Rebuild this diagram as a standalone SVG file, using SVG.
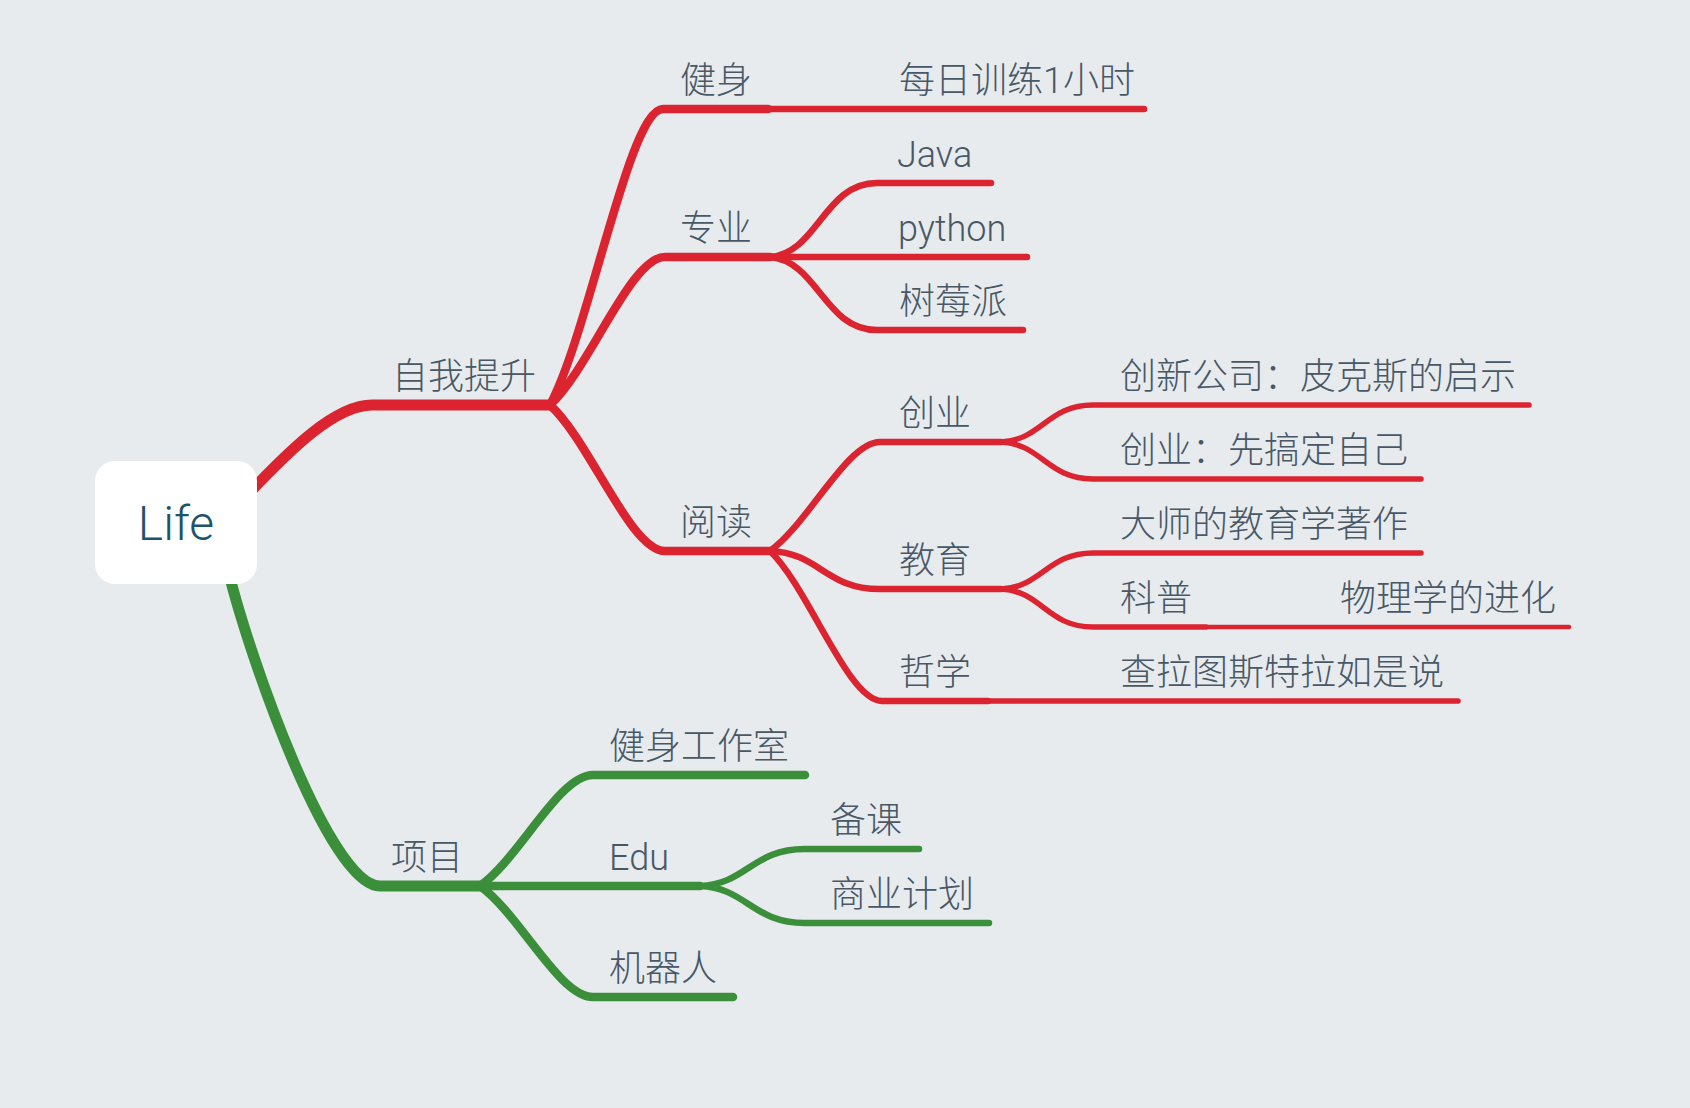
<svg xmlns="http://www.w3.org/2000/svg" width="1690" height="1108" viewBox="0 0 1690 1108">
<style>
.c{fill:none;stroke-linecap:round;stroke-linejoin:round}
.r{stroke:#dc2430}
.g{stroke:#3b8f3b}
.l1{stroke-width:11}
.l2{stroke-width:8.5}
.l3{stroke-width:6.5}
.l4{stroke-width:5.5}
.l5{stroke-width:4.5}
.t{font-family:Roboto,"Noto Sans CJK SC",sans-serif;font-weight:300;font-size:36px;fill:#485866}
.root{font-family:Roboto,"Noto Sans CJK SC",sans-serif;font-weight:300;font-size:48px;fill:#1e5468}
</style>
<rect x="0" y="0" width="1690" height="1108" fill="#e7ebee"/>
<g id="connectors">
<path class="c r l1" d="M250,492 C290,450 335,405 372,405 H550"/>
<path class="c r l2" d="M550,405 C589.6,331 629,109 663,109 H768"/>
<path class="c r l3" d="M768,109 H1144"/>
<path class="c r l2" d="M550,405 C590,368 630.5,257 665,257 H770"/>
<path class="c r l2" d="M550,405 C590,441.5 630.5,551 665,551 H770"/>
<path class="c r l3" d="M770,257 C818,253 824,183 877,183 H991"/>
<path class="c r l3" d="M770,257 H1027"/>
<path class="c r l3" d="M770,257 C818,261 824,330 877,330 H1023"/>
<path class="c r l3" d="M770,551 C808,524 847,442 880,442 H1001"/>
<path class="c r l3" d="M770,551 C820,553 825,589 880,589 H1001"/>
<path class="c r l3" d="M770,551 C809,588.5 848,701 882,701 H988"/>
<path class="c r l4" d="M988,701 H1458"/>
<path class="c r l4" d="M1001,442 C1042,440 1047,405 1093,405 H1529"/>
<path class="c r l4" d="M1001,442 C1042,444 1047,479 1093,479 H1421"/>
<path class="c r l4" d="M1001,589 C1042,587 1047,553 1093,553 H1421"/>
<path class="c r l4" d="M1001,589 C1042,591 1047,627 1093,627 H1206"/>
<path class="c r l5" d="M1206,627 H1569"/>
<path class="c g l1" d="M228,570 C250,660 330,886 380,886 H480"/>
<path class="c g l2" d="M480,886 C519.5,858 559,775 593,775 H805"/>
<path class="c g l2" d="M480,886 H700"/>
<path class="c g l2" d="M480,886 C519.5,914 559,997 593,997 H733"/>
<path class="c g l3" d="M700,886 C747,884 752,849 805,849 H919"/>
<path class="c g l3" d="M700,886 C747,888 752,923 805,923 H989"/>
</g>
<g id="node-life">
<rect x="95" y="461" width="162" height="123" rx="20" ry="20" fill="#ffffff"/>
<text class="root" x="176" y="540" text-anchor="middle">Life</text>
</g>
<g id="node-ziwotisheng"><text class="t" x="392" y="389">自我提升</text></g>
<g id="node-jianshen"><text class="t" x="680" y="93">健身</text></g>
<g id="node-meirixunlian"><text class="t" x="899" y="93">每日训练1小时</text></g>
<g id="node-zhuanye"><text class="t" x="680" y="241">专业</text></g>
<g id="node-java"><text class="t" x="897" y="167">Java</text></g>
<g id="node-python"><text class="t" x="898" y="241">python</text></g>
<g id="node-shumeipai"><text class="t" x="899" y="314">树莓派</text></g>
<g id="node-yuedu"><text class="t" x="680" y="535">阅读</text></g>
<g id="node-chuangye"><text class="t" x="899" y="426">创业</text></g>
<g id="node-chuangxin"><text class="t" x="1120" y="389">创新公司：皮克斯的启示</text></g>
<g id="node-xiangaoding"><text class="t" x="1120" y="463">创业：先搞定自己</text></g>
<g id="node-jiaoyu"><text class="t" x="899" y="573">教育</text></g>
<g id="node-dashi"><text class="t" x="1120" y="537">大师的教育学著作</text></g>
<g id="node-kepu"><text class="t" x="1120" y="611">科普</text></g>
<g id="node-wulixue"><text class="t" x="1340" y="611">物理学的进化</text></g>
<g id="node-zhexue"><text class="t" x="899" y="685">哲学</text></g>
<g id="node-chalatu"><text class="t" x="1120" y="685">查拉图斯特拉如是说</text></g>
<g id="node-xiangmu"><text class="t" x="391" y="870">项目</text></g>
<g id="node-gongzuoshi"><text class="t" x="609" y="759">健身工作室</text></g>
<g id="node-edu"><text class="t" x="609" y="870">Edu</text></g>
<g id="node-beike"><text class="t" x="830" y="833">备课</text></g>
<g id="node-shangye"><text class="t" x="830" y="907">商业计划</text></g>
<g id="node-jiqiren"><text class="t" x="609" y="981">机器人</text></g>
</svg>
